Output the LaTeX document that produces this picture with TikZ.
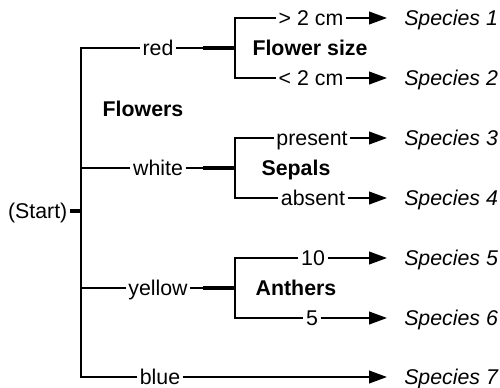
\documentclass[tikz,border=0pt]{standalone}
\usepackage{fontspec}
\setmainfont{Liberation Sans}
\usetikzlibrary{arrows.meta}
\begin{document}
\begin{tikzpicture}[x=0.75pt,y=-0.75pt,
  lbl/.style={inner xsep=1.8pt, inner ysep=0pt, text height=10.5pt, text depth=0pt, font=\fontsize{16}{18}\selectfont},
  hd/.style={lbl, font=\fontsize{16}{18}\selectfont\bfseries},
  sp/.style={lbl, inner xsep=0pt, anchor=west, font=\fontsize{16}{18}\selectfont\itshape},
  ln/.style={line width=1.5pt, line join=miter},
  thk/.style={line width=2.6pt},
  arr/.style={line width=1.5pt, -{Triangle[length=13.5pt,width=9.5pt]}},
]
\useasboundingbox (0,0) rectangle (500,387);

% level 1
\node[lbl, anchor=east] (start) at (70,211) {(Start)};
\node[lbl] (red) at (158,48) {red};
\node[lbl] (white) at (158,168) {white};
\node[lbl] (yellow) at (158,288) {yellow};
\node[lbl] (blue) at (160,377) {blue};
\node[hd] (flowers) at (143,109) {Flowers};

\coordinate (ts) at (81,211);
\coordinate (tr) at (81,48);
\coordinate (tw) at (81,168);
\coordinate (ty) at (81,288);
\coordinate (tb) at (81,377);

\draw[ln] (red.west) -- (tr) -- (tb) -- (blue.west);
\draw[ln] (tw) -- (white.west);
\draw[ln] (ty) -- (yellow.west);
\draw[line width=2.6pt] (start.east) -- (ts);

% flower size
\node[lbl] (gt) at (311,18) {> 2 cm};
\node[lbl] (lt) at (311,78) {< 2 cm};
\node[hd] (fsize) at (310,48) {Flower size};
\node[sp] (s1) at (404,18) {Species 1};
\node[sp] (s2) at (404,78) {Species 2};
\coordinate (r1) at (235,18);
\coordinate (r2) at (235,78);
\coordinate (rj) at (235,48);
\coordinate (rk) at (203,48);
\draw[ln] (gt.west) -- (r1) -- (r2) -- (lt.west);
\draw[ln] (red.east) -- (rk);
\draw[thk] (rk) -- (rj);
\draw[arr] (gt.east) -- ([xshift=-12.75pt]s1.west);
\draw[arr] (lt.east) -- ([xshift=-12.75pt]s2.west);

% sepals
\node[lbl] (pres) at (312,138) {present};
\node[lbl] (abs) at (313,198) {absent};
\node[hd] (sepals) at (296,168) {Sepals};
\node[sp] (s3) at (404,138) {Species 3};
\node[sp] (s4) at (404,198) {Species 4};
\coordinate (w1) at (235,138);
\coordinate (w2) at (235,198);
\coordinate (wj) at (235,168);
\coordinate (wk) at (203,168);
\draw[ln] (pres.west) -- (w1) -- (w2) -- (abs.west);
\draw[ln] (white.east) -- (wk);
\draw[thk] (wk) -- (wj);
\draw[arr] (pres.east) -- ([xshift=-12.75pt]s3.west);
\draw[arr] (abs.east) -- ([xshift=-12.75pt]s4.west);

% anthers
\node[lbl] (ten) at (313,258) {10};
\node[lbl] (five) at (312,318) {5};
\node[hd] (anthers) at (296,288) {Anthers};
\node[sp] (s5) at (404,258) {Species 5};
\node[sp] (s6) at (404,318) {Species 6};
\coordinate (y1) at (235,258);
\coordinate (y2) at (235,318);
\coordinate (yj) at (235,288);
\coordinate (yk) at (203,288);
\draw[ln] (ten.west) -- (y1) -- (y2) -- (five.west);
\draw[ln] (yellow.east) -- (yk);
\draw[thk] (yk) -- (yj);
\draw[arr] (ten.east) -- ([xshift=-12.75pt]s5.west);
\draw[arr] (five.east) -- ([xshift=-12.75pt]s6.west);

% blue
\node[sp] (s7) at (404,377) {Species 7};
\draw[arr] (blue.east) -- ([xshift=-12.75pt]s7.west);
\end{tikzpicture}
\end{document}
